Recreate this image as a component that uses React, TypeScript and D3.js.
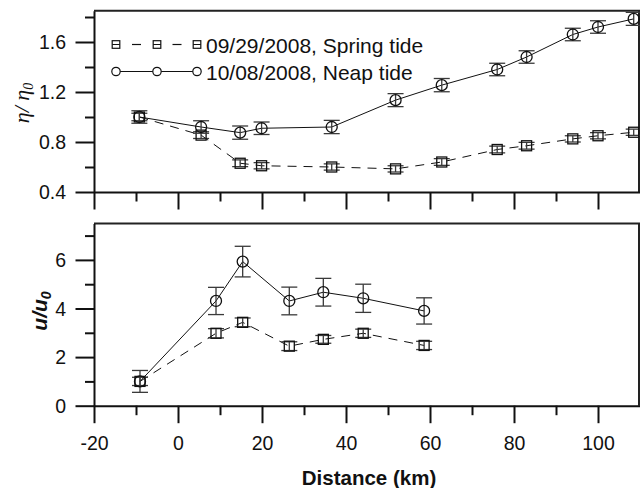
import React, { useEffect, useRef } from 'react'
import * as d3 from 'd3'

// distance (km) of each station, upper panel (eta / eta0)
const etaDist = [-9.2, 5.5, 14.8, 19.9, 36.6, 51.8, 62.8, 76, 83, 94, 100, 108.5]
const etaNeap = [1.0, 0.92, 0.875, 0.91, 0.92, 1.135, 1.255, 1.38, 1.48, 1.66, 1.72, 1.785]
const etaNeapErr = [0.05, 0.05, 0.053, 0.05, 0.053, 0.052, 0.053, 0.05, 0.05, 0.05, 0.05, 0.052]
const etaSpring = [1.0, 0.855, 0.63, 0.61, 0.6, 0.585, 0.64, 0.74, 0.77, 0.825, 0.85, 0.878]
const etaSpringErr = [0.03, 0.027, 0.027, 0.025, 0.025, 0.025, 0.027, 0.027, 0.027, 0.025, 0.025, 0.025]

// lower panel (u / u0)
const uDist = [-9.05, 9.05, 15.4, 26.5, 34.6, 44.1, 58.6]
const uNeap = [1.0, 4.31, 5.93, 4.31, 4.67, 4.42, 3.9]
const uNeapErr = [0.45, 0.56, 0.63, 0.57, 0.57, 0.58, 0.54]
const uSpring = [1.0, 2.98, 3.43, 2.45, 2.73, 2.98, 2.48]
const uSpringErr = [0.17, 0.19, 0.18, 0.18, 0.16, 0.17, 0.17]

const xMajor = [-20, 0, 20, 40, 60, 80, 100]
const xMinor = [-10, 10, 30, 50, 70, 90]
const etaMajor = [0.4, 0.8, 1.2, 1.6]
const etaMinor = [0.6, 1.0, 1.4, 1.8]
const uMajor = [0, 2, 4, 6]
const uMinor = [1, 3, 5, 7]

const legendLabels = ['09/29/2008, Spring tide', '10/08/2008, Neap tide']

const FONT = "'Liberation Sans', Arial, sans-serif"

function App() {
  const ref = useRef<SVGSVGElement>(null)

  useEffect(() => {
    const svg = d3.select(ref.current)
    svg.selectAll('*').remove()

    const x = d3.scaleLinear().domain([-20, 110]).range([94, 640])
    const yEta = d3.scaleLinear().domain([0.4, 1.85]).range([192, 10.75])
    const yU = d3.scaleLinear().domain([0, 7.5]).range([405.7, 223.45])

    const panel = (y: d3.ScaleLinear<number, number>, major: number[], minor: number[],
      fmt: (d: number) => string, showX: boolean) => {
      const [y0, y1] = y.range()
      const g = svg.append('g')

      // frame top + right
      g.append('path')
        .attr('d', `M94,${y1} H639 V${y0}`)
        .attr('fill', 'none').attr('stroke', '#222').attr('stroke-width', 2)

      const xa = g.append('g').attr('transform', `translate(0,${y0})`)
        .call(d3.axisBottom(x).tickValues(xMajor).tickSize(17.5).tickSizeOuter(0)
          .tickFormat(showX ? (d => String(d)) : () => ''))
      xa.append('g')
        .call(d3.axisBottom(x).tickValues(xMinor).tickSize(9.5).tickSizeOuter(0).tickFormat(() => ''))
        .select('.domain').remove()

      const ya = g.append('g').attr('transform', 'translate(94,0)')
        .call(d3.axisLeft(y).tickValues(major).tickSize(18.5).tickSizeOuter(0).tickFormat(d => fmt(d as number)))
      ya.append('g')
        .call(d3.axisLeft(y).tickValues(minor).tickSize(9).tickSizeOuter(0).tickFormat(() => ''))
        .select('.domain').remove()

      g.selectAll('.domain').attr('stroke', '#111').attr('stroke-width', 2)
      g.selectAll('.tick line').attr('stroke', '#111').attr('stroke-width', 2)
      g.selectAll('.tick text').attr('font-family', FONT).attr('font-size', 19.5).attr('fill', '#111')
      ya.selectAll('.tick text').attr('x', -28).attr('dy', '0.35em')
      xa.selectAll('.tick text').attr('y', 30).attr('dy', '0.71em')
      return g
    }

    const series = (g: any, y: d3.ScaleLinear<number, number>, xs: number[], vs: number[],
      es: number[], dashed: boolean, square: boolean) => {
      const line = d3.line<number>().x((d, i) => x(xs[i])).y(d => y(d))
      g.append('path').datum(vs).attr('d', line)
        .attr('fill', 'none').attr('stroke', '#111').attr('stroke-width', 1)
        .attr('stroke-dasharray', dashed ? '9,7' : null)
      const eb = g.append('g').attr('stroke', '#3a3a3a').attr('stroke-width', 1.3)
      vs.forEach((v, i) => {
        const cx = x(xs[i])
        const top = y(v + es[i])
        const bot = y(v - es[i])
        eb.append('line').attr('x1', cx).attr('x2', cx).attr('y1', top).attr('y2', bot)
        eb.append('line').attr('x1', cx - 8).attr('x2', cx + 8).attr('y1', top).attr('y2', top)
        eb.append('line').attr('x1', cx - 8).attr('x2', cx + 8).attr('y1', bot).attr('y2', bot)
      })
      const mk = g.append('g').attr('fill', 'none').attr('stroke', '#111').attr('stroke-width', 1.3)
      vs.forEach((v, i) => {
        if (square) {
          mk.append('rect').attr('x', x(xs[i]) - 5).attr('y', y(v) - 5).attr('width', 10).attr('height', 10)
        } else {
          mk.append('circle').attr('cx', x(xs[i])).attr('cy', y(v)).attr('r', 5.5)
        }
      })
    }

    const top = panel(yEta, etaMajor, etaMinor, d => d3.format('.1f')(d), false)
    series(top, yEta, etaDist, etaSpring, etaSpringErr, true, true)
    series(top, yEta, etaDist, etaNeap, etaNeapErr, false, false)

    const bot = panel(yU, uMajor, uMinor, d => String(d), true)
    series(bot, yU, uDist, uSpring, uSpringErr, true, true)
    series(bot, yU, uDist, uNeap, uNeapErr, false, false)

    // legend
    const lg = svg.append('g')
    const symX = [116, 157, 197]
    legendLabels.forEach((label, k) => {
      const ly = k === 0 ? 44.5 : 71.5
      if (k === 0) {
        // one short dash between each pair of symbols
        d3.pairs(symX).forEach(([a, b]) => {
          const m = (a + b) / 2
          lg.append('line').attr('x1', m - 4.5).attr('x2', m + 4.5).attr('y1', ly).attr('y2', ly)
            .attr('stroke', '#111').attr('stroke-width', 1.2)
        })
      } else {
        lg.append('line').attr('x1', symX[0]).attr('x2', symX[2]).attr('y1', ly).attr('y2', ly)
          .attr('stroke', '#111').attr('stroke-width', 1.2)
      }
      symX.forEach(sx => {
        if (k === 0) {
          lg.append('rect').attr('x', sx - 3.8).attr('y', ly - 3.8).attr('width', 7.6).attr('height', 7.6)
            .attr('fill', 'white').attr('stroke', '#111').attr('stroke-width', 1.2)
          lg.append('line').attr('x1', sx - 3.8).attr('x2', sx + 3.8).attr('y1', ly).attr('y2', ly)
            .attr('stroke', '#111').attr('stroke-width', 1)
        } else {
          lg.append('circle').attr('cx', sx).attr('cy', ly).attr('r', 4.2)
            .attr('fill', 'white').attr('stroke', '#111').attr('stroke-width', 1.2)
        }
      })
      lg.append('text').attr('x', 206).attr('y', ly + 8).text(label)
        .attr('font-family', FONT).attr('font-size', 21).attr('fill', '#111')
    })

    // axis titles
    svg.append('text').attr('x', 369).attr('y', 485).attr('text-anchor', 'middle')
      .attr('font-family', FONT).attr('font-size', 20.5).attr('font-weight', 'bold').attr('fill', '#111')
      .text('Distance (km)')

    const t1 = svg.append('text').attr('transform', 'translate(29,103) rotate(-90)')
      .attr('text-anchor', 'middle').attr('font-family', "'Liberation Serif', 'Times New Roman', serif")
      .attr('font-style', 'italic').attr('font-size', 22).attr('fill', '#111')
    t1.append('tspan').text('η/ η')
    t1.append('tspan').attr('font-size', 14).attr('dy', 4).text('0')

    const t2 = svg.append('text').attr('transform', 'translate(47,311) rotate(-90)')
      .attr('text-anchor', 'middle').attr('font-family', FONT)
      .attr('font-style', 'italic').attr('font-weight', 'bold').attr('font-size', 21).attr('fill', '#111')
    t2.append('tspan').text('u/u')
    t2.append('tspan').attr('font-size', 14).attr('dy', 4).text('0')
  }, [])

  return (
    <svg ref={ref} width={640} height={488}
      style={{ position: 'absolute', left: 0, top: 0, background: 'white', display: 'block' }} />
  )
}

export default App
